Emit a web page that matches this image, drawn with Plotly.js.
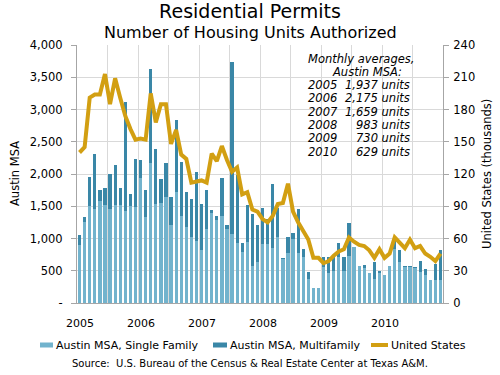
<!DOCTYPE html>
<html>
<head>
<meta charset="utf-8">
<script src="https://cdn.plot.ly/plotly-3.0.1.min.js"></script>
<style>html,body{margin:0;padding:0;background:#fff;}#chart{width:500px;height:375px;}</style>
</head>
<body>
<div id="chart"></div>
<script>
// ---- Data (monthly, Jan 2005 - Dec 2010) ----
const years = ['2005', '2006', '2007', '2008', '2009', '2010'];
const monthNames = ['Jan','Feb','Mar','Apr','May','Jun','Jul','Aug','Sep','Oct','Nov','Dec'];

// Austin MSA, single-family units authorized
const singleFamily = [
  900, 1255, 1500, 1465, 1578, 1527, 1460, 1516, 1516, 1420, 1500, 1490,
  1937, 1337, 2167, 1542, 1552, 1639, 1209, 1726, 1347, 1178, 1030, 963,
  820, 1142, 1399, 1281, 1347, 1153, 1076, 932, 784, 953, 579, 630,
  912, 912, 850, 1025, 681, 768, 999, 768, 707, 374, 230, 230,
  560, 459, 500, 706, 490, 732, 861, 577, 541, 464, 371, 459,
  433, 577, 835, 629, 552, 562, 541, 474, 438, 361, 356, 356
];
// Austin MSA, multifamily units authorized
const multiFamily = [
  150, 85, 457, 851, 179, 251, 538, 625, 267, 1695, 196, 750,
  281, 420, 1460, 845, 369, 528, 435, 1107, 846, 538, 589, 1061,
  717, 610, 46, 66, 584, 56, 2654, 1056, 143, 568, 794, 574,
  563, 384, 994, 450, 11, 257, 92, 682, 128, 102, 0, 0,
  150, 247, 247, 222, 227, 505, 10, 0, 52, 0, 258, 36,
  0, 0, 119, 196, 15, 15, 11, 170, 88, 0, 247, 464
];
// United States, units authorized (thousands)
const unitedStates = [
  140, 145, 191, 194, 194, 213, 185, 209, 191, 174, 162, 152,
  153, 152, 195, 168, 185, 185, 148, 161, 138, 134, 112, 113,
  114, 112, 139, 132, 146, 133, 122, 126, 101, 103, 87, 85,
  78, 75, 81, 92, 93, 111, 85, 75, 67, 59, 42, 42,
  37, 39, 44, 48, 50, 61, 57, 54, 53, 49, 42, 50,
  42, 46, 61, 56, 51, 59, 51, 53, 46, 43, 39, 46
];
const leftTickVals = [0, 500, 1000, 1500, 2000, 2500, 3000, 3500, 4000];
const leftTickText = ['-', '500', '1,000', '1,500', '2,000', '2,500', '3,000', '3,500', '4,000'];
const rightTickVals = [0, 30, 60, 90, 120, 150, 180, 210, 240];
const avgYears = ['2005', '2006', '2007', '2008', '2009', '2010'];
const avgUnits = ['1,937 units', '2,175 units', '1,659 units', '983 units', '730 units', '629 units'];

// ---- Build ----
const monthLabels = [];
years.forEach(y => monthNames.forEach(m => monthLabels.push(m + ' ' + y)));
const xIdx = monthLabels.map((_, i) => i);

const FONT = 'DejaVu Sans, Verdana, sans-serif';
const COL_SF = '#72b3cd';
const COL_MF = '#3a87a7';
const COL_US = '#d29f12';
const GRID = '#d9d9d9';
const AXIS = '#a6a6a6';

// pixel -> paper helpers (plot area 77..443 x 45..303)
const X0 = 77, X1 = 443, Y0 = 45, Y1 = 303;
const px = x => (x - X0) / (X1 - X0);
const py = y => (Y1 - y) / (Y1 - Y0);

const traces = [
  {type: 'bar', name: 'Austin MSA, Single Family', x: xIdx, y: singleFamily, text: monthLabels,
   hoverinfo: 'text+y', textposition: 'none', marker: {color: COL_SF}, yaxis: 'y'},
  {type: 'bar', name: 'Austin MSA, Multifamily', x: xIdx, y: multiFamily, text: monthLabels,
   hoverinfo: 'text+y', textposition: 'none', marker: {color: COL_MF}, yaxis: 'y'},
  {type: 'scatter', mode: 'lines', name: 'United States', x: xIdx, y: unitedStates,
   line: {color: COL_US, width: 4, shape: 'linear'}, yaxis: 'y2'}
];

// half-year gridlines on category boundaries
const gridVals = [];
for (let k = 0; k <= 12; k++) gridVals.push(-0.5 + 6 * k);

const annotations = [
  {text: 'Number of Housing Units Authorized', xref: 'paper', yref: 'paper', x: px(250), y: py(33),
   xanchor: 'center', yanchor: 'middle', showarrow: false, font: {family: FONT, size: 16, color: '#000'}},
  {text: 'Austin MSA', xref: 'paper', yref: 'paper', x: px(15), y: py(174), textangle: -90,
   xanchor: 'center', yanchor: 'middle', showarrow: false, font: {family: FONT, size: 11.5, color: '#000'}},
  {text: 'United States (thousands)', xref: 'paper', yref: 'paper', x: px(487), y: py(174), textangle: -90,
   xanchor: 'center', yanchor: 'middle', showarrow: false, font: {family: FONT, size: 11.5, color: '#000'}},
  {text: 'Monthly averages,', xref: 'paper', yref: 'paper', x: px(361), y: py(59),
   xanchor: 'center', yanchor: 'middle', showarrow: false, font: {family: FONT, size: 11.5, color: '#000', style: 'italic'}},
  {text: 'Austin MSA:', xref: 'paper', yref: 'paper', x: px(367), y: py(72.3),
   xanchor: 'center', yanchor: 'middle', showarrow: false, font: {family: FONT, size: 11.5, color: '#000', style: 'italic'}},
  {text: 'Source:  U.S. Bureau of the Census &amp; Real Estate Center at Texas A&amp;M.', xref: 'paper', yref: 'paper',
   x: px(250), y: py(363), xanchor: 'center', yanchor: 'middle', showarrow: false,
   font: {family: FONT, size: 10, color: '#000'}}
];
// year tick labels, centred on each January bar
years.forEach((yr, i) => {
  annotations.push({text: yr, xref: 'x', yref: 'paper', x: xIdx[i * 12], y: py(323),
    xanchor: 'center', yanchor: 'middle', showarrow: false, font: {family: FONT, size: 11, color: '#000'}});
});
const rowY = [85, 98.3, 111.7, 125, 138.3, 151.7];
avgYears.forEach((yr, i) => {
  annotations.push({text: yr, xref: 'paper', yref: 'paper', x: px(306), y: py(rowY[i]),
    xanchor: 'left', yanchor: 'middle', showarrow: false, font: {family: FONT, size: 11.5, color: '#000', style: 'italic'}});
  annotations.push({text: avgUnits[i], xref: 'paper', yref: 'paper', x: px(412), y: py(rowY[i]),
    xanchor: 'right', yanchor: 'middle', showarrow: false, font: {family: FONT, size: 11.5, color: '#000', style: 'italic'}});
});

// custom legend
const legendItems = [
  {label: traces[0].name, x0: 40, x1: 53, kind: 'rect', color: COL_SF},
  {label: traces[1].name, x0: 213, x1: 227, kind: 'rect', color: COL_MF},
  {label: traces[2].name, x0: 371, x1: 388, kind: 'line', color: COL_US}
];
const shapes = [
  {type: 'rect', xref: 'paper', yref: 'paper', x0: px(300), x1: px(415), y0: py(162), y1: py(48),
   fillcolor: '#ffffff', line: {width: 0}, layer: 'between'}
];
legendItems.forEach(it => {
  if (it.kind === 'rect') {
    shapes.push({type: 'rect', xref: 'paper', yref: 'paper', x0: px(it.x0), x1: px(it.x1), y0: py(347.5), y1: py(342.5),
      fillcolor: it.color, line: {width: 0}});
  } else {
    shapes.push({type: 'line', xref: 'paper', yref: 'paper', x0: px(it.x0), x1: px(it.x1), y0: py(345), y1: py(345),
      line: {color: it.color, width: 4}});
  }
  annotations.push({text: it.label, xref: 'paper', yref: 'paper', x: px(it.x1 + 0.5), y: py(345),
    xanchor: 'left', yanchor: 'middle', showarrow: false, font: {family: FONT, size: 11, color: '#000'}});
});

const layout = {
  width: 500, height: 375,
  margin: {l: X0, r: 500 - X1, t: Y0, b: 375 - Y1, pad: 0},
  paper_bgcolor: '#ffffff', plot_bgcolor: '#ffffff',
  font: {family: FONT, size: 11.5, color: '#000'},
  title: {text: 'Residential Permits', font: {family: FONT, size: 19, color: '#000'},
          xref: 'container', x: 0.5, xanchor: 'center', yref: 'container', y: 1 - 11.7 / 375, yanchor: 'middle'},
  barmode: 'stack', bargap: 0.36,
  showlegend: false,
  xaxis: {range: [-0.5, 71.5], tickmode: 'array', tickvals: gridVals, showticklabels: false,
          showgrid: true, gridcolor: GRID, gridwidth: 1, zeroline: false, showline: true, linecolor: AXIS, linewidth: 1,
          ticks: '', fixedrange: true},
  yaxis: {range: [0, 4000], tickmode: 'array', tickvals: leftTickVals, ticktext: leftTickText,
          showgrid: true, gridcolor: GRID, gridwidth: 1, zeroline: false, showline: true, linecolor: AXIS,
          ticks: 'outside', ticklen: 5, tickcolor: AXIS, ticklabelstandoff: 6,
          tickfont: {family: FONT, size: 11.5, color: '#000'}, fixedrange: true},
  yaxis2: {range: [0, 240], tickmode: 'array', tickvals: rightTickVals, overlaying: 'y', side: 'right',
           showgrid: false, zeroline: false, showline: true, linecolor: AXIS,
           ticks: 'outside', ticklen: 5, tickcolor: AXIS, ticklabelstandoff: 2,
           tickfont: {family: FONT, size: 11.5, color: '#000'}, fixedrange: true},
  annotations: annotations,
  shapes: shapes
};

Plotly.newPlot('chart', traces, layout, {displayModeBar: false, staticPlot: true});
</script>
</body>
</html>
